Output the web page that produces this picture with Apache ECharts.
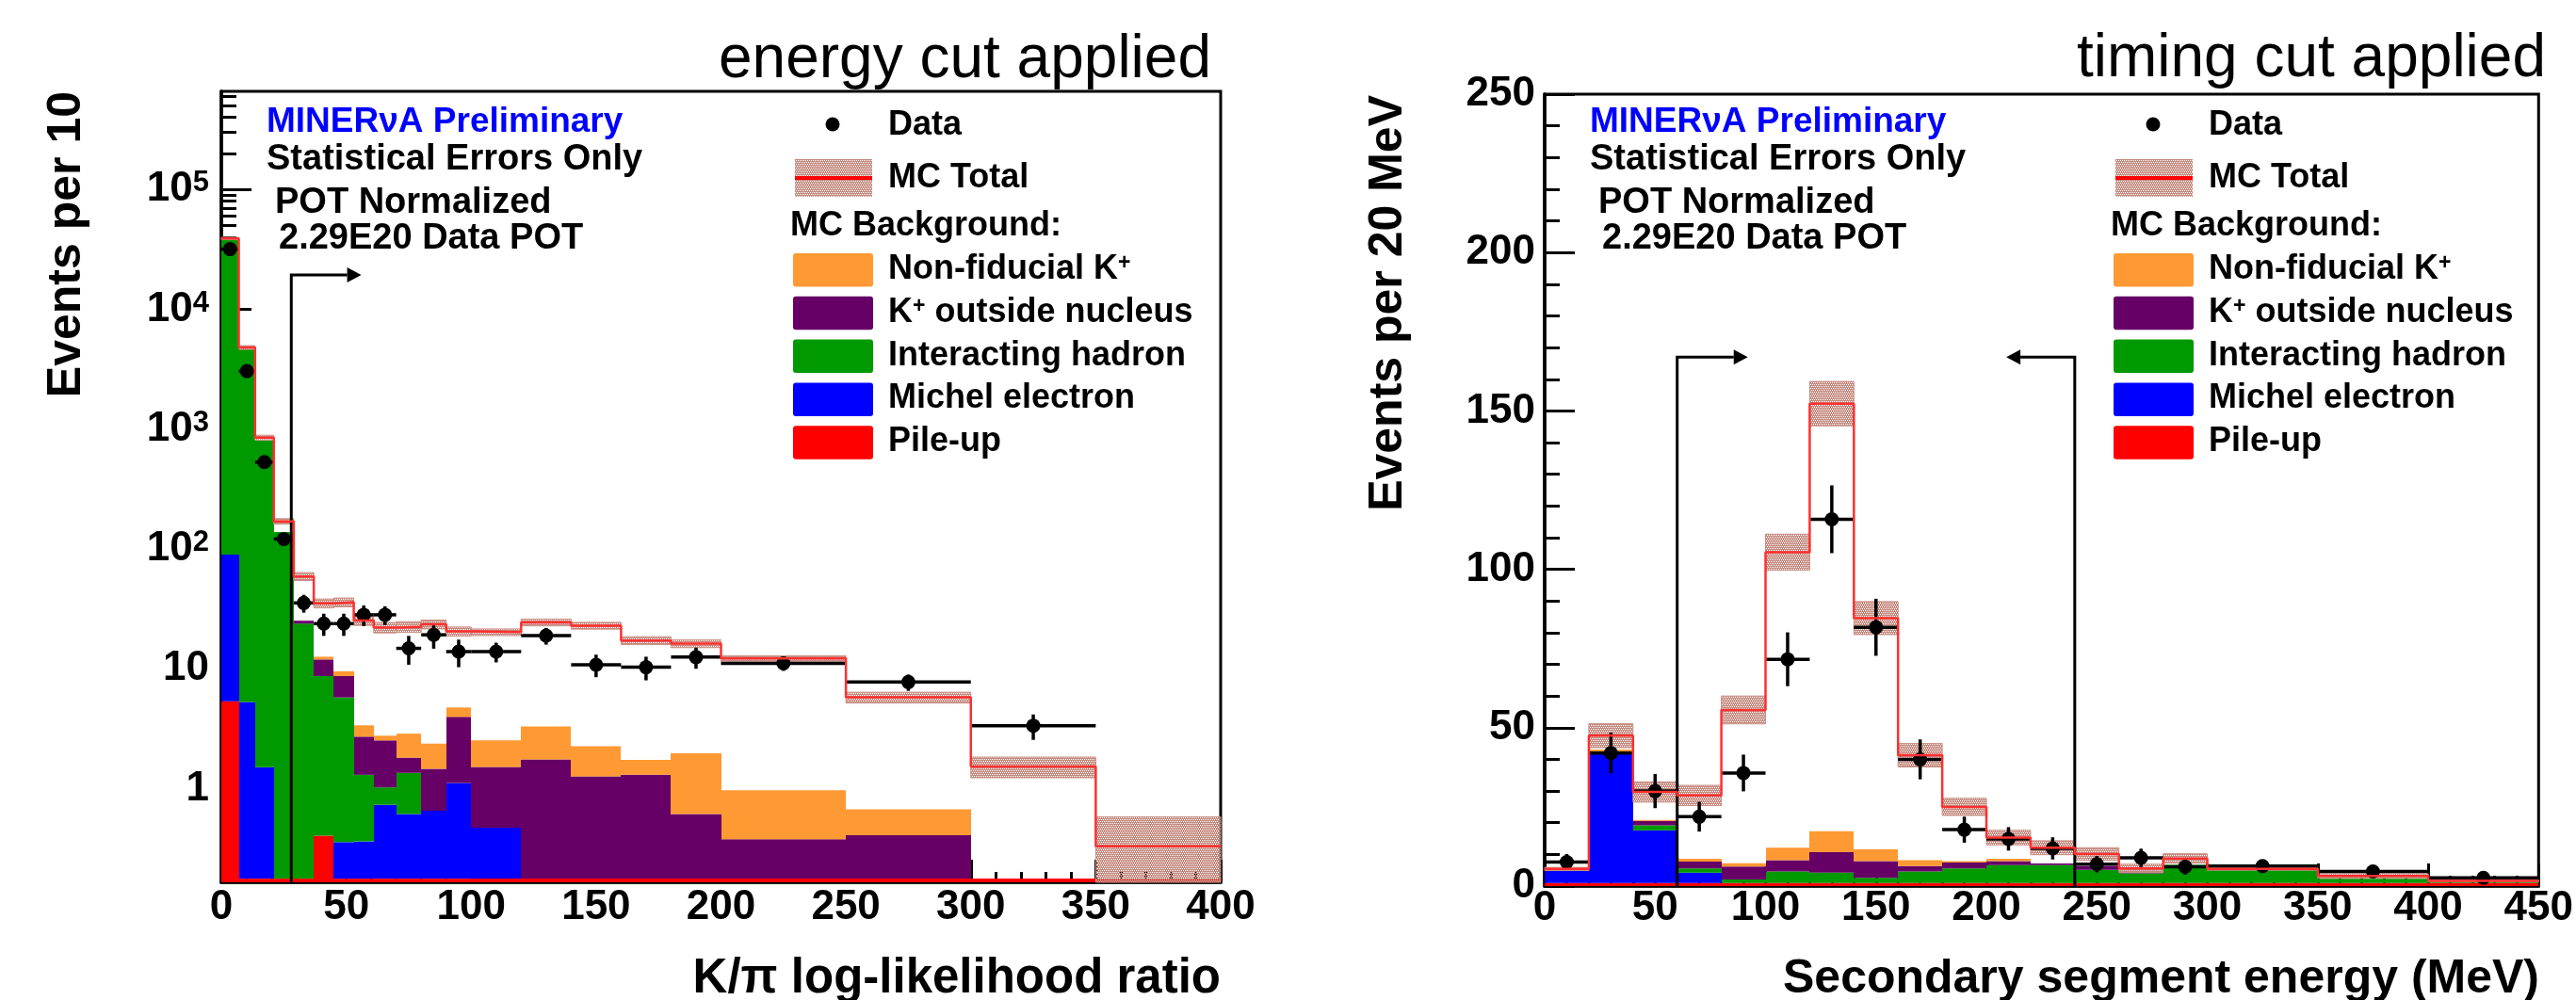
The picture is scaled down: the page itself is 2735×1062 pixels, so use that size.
<!DOCTYPE html>
<html>
<head>
<meta charset="UTF-8">
<title>K+ selection cuts</title>
<style>
  html, body { margin: 0; padding: 0; background: #fff; }
</style>
</head>
<body>
<div id="main" style="width:2735px;height:1062px"></div>
<script src="https://cdn.jsdelivr.net/npm/echarts@6/dist/echarts.min.js"></script>
<script type="text/javascript">
var FONT = 'Liberation Sans, Arial, Helvetica, sans-serif';

// ---- left panel: K/pi log-likelihood ratio, energy cut applied (events per 10)
var llEdges    = [0, 7, 13.5, 21, 29, 37, 45, 53, 61, 70, 80, 90, 100, 120, 140, 160, 180, 200, 250, 300, 350, 400];
var llPileup   = [5.35, 0.177, 0.177, 0.177, 0.177, 0.404, 0.177, 0.177, 0.177, 0.177, 0.177, 0.177, 0.177, 0.177, 0.177, 0.177, 0.177, 0.177, 0.177, 0.177, 0.177];
var llMichel   = [84.3, 5.1, 1.33, 0, 0, 0, 0.18, 0.185, 0.555, 0.435, 0.475, 0.935, 0.295, 0, 0, 0, 0, 0, 0, 0, 0];
var llHadron   = [38500, 4635, 798, 138, 23.6, 8.28, 5.4, 0.94, 0.29, 0.74, 0, 0, 0, 0, 0, 0, 0, 0, 0, 0, 0];
var llKOutside = [0, 0, 0, 0, 1.4, 3.27, 2.93, 1.41, 1.5, 0.46, 0.81, 2.85, 1.04, 1.575, 1.085, 1.125, 0.435, 0.2, 0.23, 0, 0];
var llNonFid   = [0, 0, 0, 0, 0, 0.65, 0.82, 0.66, 0.24, 1.06, 0.91, 0.79, 1.01, 1.55, 0.99, 0.43, 1.36, 0.59, 0.265, 0, 0];
var llMC       = [39000, 4800, 850, 170, 59, 35.2, 35.9, 25.3, 22.1, 22.4, 23.5, 20.5, 20.2, 24.4, 22.9, 17.2, 16.2, 12.2, 5.77, 1.53, 0.33];
var llMCErr    = [900, 170, 40, 9, 4.5, 3, 3, 2.3, 2.2, 2.3, 2, 1.8, 1.3, 1.6, 1.5, 1.3, 1.2, 0.65, 0.6, 0.3, 0.25];
var llData     = [31800, 3050, 530, 121, 35.4, 23.8, 23.8, 28.2, 28.2, 14.8, 19.2, 13.9, 13.9, 18.9, 10.8, 10.3, 12.5, 11.1, 7.74, 3.35, null];
var llDataErr  = [180, 55, 23, 12, 6, 5, 5, 5.5, 5, 4, 4.5, 3.6, 2.6, 3, 2.3, 2.3, 2.5, 1.5, 1.2, 0.8, null];
var llYTicks   = [1, 10, 100, 1000, 10000, 100000];
var llYMin = 0.165, llYMax = 6.6e5;
var llCuts     = [[28, 19400, 56]];   // cut value, arrow height, arrow tip

// ---- right panel: secondary segment energy, timing cut applied (events per 20 MeV)
var segEdges    = [0, 20, 40, 60, 80, 100, 120, 140, 160, 180, 200, 220, 240, 260, 280, 300, 350, 400, 450];
var segPileup   = [1, 1, 1, 1, 1, 1, 1, 1, 1, 1, 1, 1, 1, 1, 1, 1, 1, 1];
var segMichel   = [3.9, 40.7, 16.6, 3.2, 0, 0, 0, 0, 0, 0, 0, 0, 0, 0, 0, 0, 0, 0];
var segHadron   = [0.5, 0.7, 1.6, 1.4, 1.1, 3.6, 3.2, 1.6, 3.6, 4.6, 5.6, 5.6, 4.1, 3.0, 5.7, 4.4, 1.3, 0.6];
var segKOutside = [0, 0, 1.4, 2.1, 4.1, 3.6, 6.5, 5.3, 1.7, 1.8, 1.3, 0.5, 1.2, 0.8, 0, 0, 0, 0];
var segNonFid   = [0, 0.7, 0.3, 0.9, 1.0, 3.9, 6.6, 3.7, 1.9, 0.5, 0.7, 0, 0, 0, 0, 0, 0, 0];
var segMC       = [5.4, 47.5, 29.7, 28.6, 55.6, 105.4, 152.3, 84.6, 41.3, 25.0, 15.3, 12.1, 10.1, 5.6, 8.7, 5.4, 3.2, 1.6];
var segMCErr    = [0.5, 3.8, 3.2, 3.2, 4.4, 5.7, 7, 5.2, 3.7, 2.7, 2.3, 2.2, 2.0, 1.3, 1.5, 0.4, 0.7, 0.3];
var segData     = [7.6, 42, 30, 21.9, 35.7, 71.6, 115.8, 81.7, 40, 17.8, 14.9, 11.9, 6.9, 8.9, 6.1, 6.3, 4.6, 2.6];
var segDataErr  = [2.5, 6.4, 5.4, 4.7, 5.8, 8.5, 10.7, 9, 6.3, 4.1, 3.7, 3.5, 2.6, 2.9, 2.5, 1.6, 1.4, 1.0];
var segCuts     = [[60, 167, 92], [240, 167, 209]];

var compColors = ['#ff0000', '#0000ff', '#009900', '#660066', '#ff9933'];

// hatch pattern for the MC total band (holes let the red line show through)
var pat = document.createElement('canvas');
pat.width = 4; pat.height = 4;
var pctx = pat.getContext('2d');
pctx.fillStyle = '#c48a7f';
pctx.fillRect(0, 0, 4, 4);
pctx.clearRect(0, 0, 1, 1); pctx.clearRect(2, 0, 1, 1);
pctx.clearRect(1, 2, 1, 1); pctx.clearRect(3, 2, 1, 1);
var hatch = { image: pat, repeat: 'repeat' };

function stackData(edges, comps, floor) {
    var out = comps.map(function () { return []; });
    for (var i = 0; i < edges.length - 1; i++) {
        var cum = 0;
        for (var c = 0; c < comps.length; c++) {
            var v = comps[c][i];
            if (v > 0) {
                var b = cum;
                cum += v;
                out[c].push([edges[i], edges[i + 1], Math.max(b, floor), cum]);
            }
        }
    }
    return out;
}

function bandData(edges, mc, err, floor) {
    var out = [];
    for (var i = 0; i < mc.length; i++) {
        out.push([edges[i], edges[i + 1], Math.max(mc[i] - err[i], floor), mc[i] + err[i]]);
    }
    return out;
}

function stepPoints(edges, vals) {
    var pts = [];
    for (var i = 0; i < vals.length; i++) {
        pts.push([edges[i], vals[i]]);
        pts.push([edges[i + 1], vals[i]]);
    }
    return pts;
}

function pointData(edges, vals, errs) {
    var out = [];
    for (var i = 0; i < vals.length; i++) {
        if (vals[i] == null) continue;
        out.push([(edges[i] + edges[i + 1]) / 2, vals[i], errs[i], edges[i], edges[i + 1]]);
    }
    return out;
}

function renderBox(params, api) {
    var a = api.coord([api.value(0), api.value(3)]);
    var b = api.coord([api.value(1), api.value(2)]);
    var x0 = Math.round(a[0]), x1 = Math.round(b[0]);
    return { type: 'rect', shape: { x: x0, y: a[1], width: x1 - x0, height: b[1] - a[1] },
             style: { fill: api.visual('color') } };
}

function renderBand(params, api) {
    var a = api.coord([api.value(0), api.value(3)]);
    var b = api.coord([api.value(1), api.value(2)]);
    return { type: 'rect', shape: { x: a[0], y: a[1], width: b[0] - a[0], height: b[1] - a[1] },
             style: { fill: hatch, stroke: '#c99085', lineWidth: 1 } };
}

function dataRenderer(floor) {
    return function (params, api) {
        var x = api.value(0), y = api.value(1), e = api.value(2);
        var c = api.coord([x, y]);
        var up = api.coord([x, y + e]);
        var dn = api.coord([x, Math.max(y - e, floor)]);
        var l = api.coord([api.value(3), y]);
        var r = api.coord([api.value(4), y]);
        return { type: 'group', children: [
            { type: 'line', shape: { x1: l[0], y1: c[1], x2: r[0], y2: c[1] }, style: { stroke: '#000', lineWidth: 3.5 } },
            { type: 'line', shape: { x1: c[0], y1: up[1], x2: c[0], y2: dn[1] }, style: { stroke: '#000', lineWidth: 3.5 } },
            { type: 'circle', shape: { cx: c[0], cy: c[1], r: 7.5 }, style: { fill: '#000' } }
        ] };
    };
}

function cutRenderer(floor) {
    return function (params, api) {
        var b = api.coord([api.value(0), floor]);
        var t = api.coord([api.value(0), api.value(1)]);
        var tip = api.coord([api.value(2), api.value(1)]);
        var dir = tip[0] > t[0] ? 1 : -1;
        var hx = tip[0] - dir * 15;
        return { type: 'group', children: [
            { type: 'polyline', shape: { points: [[b[0], b[1]], [t[0], t[1]], [hx, t[1]]] },
              style: { stroke: '#000', lineWidth: 3, fill: null } },
            { type: 'polygon', shape: { points: [[tip[0], t[1]], [hx, t[1] - 8], [hx, t[1] + 8]] },
              style: { fill: '#000' } }
        ] };
    };
}

function panelSeries(xi, yi, edges, comps, mc, mcErr, data, dataErr, cuts, floor) {
    var list = [];
    var stacks = stackData(edges, comps, floor);
    stacks.forEach(function (d, k) {
        list.push({ type: 'custom', xAxisIndex: xi, yAxisIndex: yi, silent: true,
                    itemStyle: { color: compColors[k] }, encode: { x: [0, 1], y: [2, 3] },
                    data: d, renderItem: renderBox });
    });
    list.push({ type: 'line', xAxisIndex: xi, yAxisIndex: yi, silent: true, symbol: 'none',
                lineStyle: { color: '#ff3030', width: 2.5 }, data: stepPoints(edges, mc) });
    list.push({ type: 'custom', xAxisIndex: xi, yAxisIndex: yi, silent: true,
                encode: { x: [0, 1], y: [2, 3] }, data: bandData(edges, mc, mcErr, floor), renderItem: renderBand });
    list.push({ type: 'custom', xAxisIndex: xi, yAxisIndex: yi, silent: true,
                encode: { x: 0, y: 1 }, data: pointData(edges, data, dataErr), renderItem: dataRenderer(floor) });
    list.push({ type: 'custom', xAxisIndex: xi, yAxisIndex: yi, silent: true,
                encode: { x: [0, 2], y: 1 }, data: cuts, renderItem: cutRenderer(floor) });
    return list;
}

var series = panelSeries(0, 0, llEdges, [llPileup, llMichel, llHadron, llKOutside, llNonFid],
                         llMC, llMCErr, llData, llDataErr, llCuts, llYMin)
    .concat(panelSeries(1, 2, segEdges, [segPileup, segMichel, segHadron, segKOutside, segNonFid],
                        segMC, segMCErr, segData, segDataErr, segCuts, 0));

// minor ticks of the log axis: 2..9 in every decade
var llMinor = [];
for (var d = -1; d <= 5; d++) {
    for (var k = 2; k <= 9; k++) {
        var v = k * Math.pow(10, d);
        if (v > llYMin && v < llYMax) llMinor.push(v);
    }
}

function powLabel(v) {
    var e = Math.round(Math.log(v) / Math.LN10);
    if (e === 0) return '1';
    if (e === 1) return '10';
    return '10{sup|' + e + '}';
}

var axisLineStyle = { color: '#000', width: 3.5 };
var tickStyle = { color: '#000', width: 3 };
var labelStyle = { fontSize: 44, fontWeight: 'bold', fontFamily: FONT, color: '#000' };

function xAxisOpt(gi, max, margin) {
    return {
        gridIndex: gi, type: 'value', min: 0, max: max, interval: 50,
        axisLine: { lineStyle: axisLineStyle },
        axisTick: { inside: true, length: 24, lineStyle: tickStyle },
        minorTick: { show: true, splitNumber: 5, length: 11, lineStyle: tickStyle },
        axisLabel: Object.assign({ margin: margin }, labelStyle),
        splitLine: { show: false }
    };
}

// ---- legend, text boxes and titles
function txt(x, y, text, size, o) {
    o = o || {};
    var align = o.align || 'left';
    return {
        type: 'text', x: x, y: y, rotation: o.rotation || 0, silent: true,
        style: {
            text: text, fill: o.color || '#000', fontSize: size, fontWeight: o.weight || 'bold',
            fontFamily: FONT, align: align, textAlign: align,
            verticalAlign: 'middle', textVerticalAlign: 'middle', rich: o.rich
        }
    };
}

var supRich = { sup: { fontSize: 23, fontWeight: 'bold', fontFamily: FONT, color: '#000', verticalAlign: 'top' } };
var legendNames = ['Non-fiducial K{sup|+}', 'K{sup|+} outside nucleus', 'Interacting hadron', 'Michel electron', 'Pile-up'];
var legendColors = ['#ff9933', '#660066', '#009900', '#0000ff', '#ff0000'];

function panelDecor(L, R) {
    var els = [];
    els.push(txt(L + 48, 130, 'MINER\u03bdA Preliminary', 37, { color: '#0000ff' }));
    els.push(txt(L + 48, 170, 'Statistical Errors Only', 38));
    els.push(txt(L + 57, 216, 'POT Normalized', 38));
    els.push(txt(L + 61, 254, '2.29E20 Data POT', 38));

    var sx = R - 454, tx = R - 353;
    els.push({ type: 'circle', silent: true, shape: { cx: R - 412, cy: 132, r: 7.5 }, style: { fill: '#000' } });
    els.push(txt(tx, 133, 'Data', 36));
    els.push({ type: 'rect', silent: true, shape: { x: sx + 2, y: 169, width: 82, height: 40 }, style: { fill: hatch } });
    els.push({ type: 'line', silent: true, shape: { x1: sx + 2, y1: 189, x2: sx + 84, y2: 189 }, style: { stroke: '#ff0000', lineWidth: 4 } });
    els.push(txt(tx, 189, 'MC Total', 36));
    els.push(txt(R - 457, 240, 'MC Background:', 36));
    for (var i = 0; i < legendNames.length; i++) {
        var top = 269 + i * 45.8;
        els.push({ type: 'rect', silent: true, shape: { x: sx, y: top, width: 85, height: 35.5, r: 3 },
                   style: { fill: legendColors[i] } });
        els.push(txt(tx, top + 17, legendNames[i], 36, { rich: supRich }));
    }
    return els;
}

var graphics = []
    .concat(panelDecor(235, 1296))
    .concat(panelDecor(1640, 2698))
    .concat([
        txt(1286, 64, 'energy cut applied', 64, { align: 'right', weight: 'normal' }),
        txt(2703, 63, 'timing cut applied', 64, { align: 'right', weight: 'normal' }),
        txt(71, 97, 'Events per 10', 50, { align: 'right', rotation: Math.PI / 2 }),
        txt(1474, 101, 'Events per 20 MeV', 50, { align: 'right', rotation: Math.PI / 2 }),
        txt(1296, 1040, 'K/\u03c0 log-likelihood ratio', 51, { align: 'right' }),
        txt(2696, 1040, 'Secondary segment energy (MeV)', 50, { align: 'right' })
    ]);

var option = {
    animation: false,
    backgroundColor: '#fff',
    grid: [
        { left: 235, top: 97, width: 1061, height: 840, show: true, borderColor: '#000', borderWidth: 3 },
        { left: 1640, top: 100, width: 1058, height: 841, show: true, borderColor: '#000', borderWidth: 3 }
    ],
    xAxis: [ xAxisOpt(0, 400, 5), xAxisOpt(1, 450, 2) ],
    yAxis: [
        {
            gridIndex: 0, type: 'log', logBase: 10, min: llYMin, max: llYMax,
            axisLine: { lineStyle: axisLineStyle },
            axisTick: { inside: true, length: 32, lineStyle: tickStyle, customValues: llYTicks },
            axisLabel: Object.assign({ margin: 13, customValues: llYTicks, formatter: powLabel,
                rich: { sup: { fontSize: 31, fontWeight: 'bold', fontFamily: FONT, color: '#000', verticalAlign: 'top' } } }, labelStyle),
            splitLine: { show: false }
        },
        {
            gridIndex: 0, type: 'log', logBase: 10, min: llYMin, max: llYMax, position: 'left',
            axisLine: { show: false },
            axisTick: { inside: true, length: 16, lineStyle: tickStyle, customValues: llMinor },
            axisLabel: { show: false },
            splitLine: { show: false }
        },
        {
            gridIndex: 1, type: 'value', min: 0, max: 250, interval: 50,
            axisLine: { lineStyle: axisLineStyle },
            axisTick: { inside: true, length: 32, lineStyle: tickStyle },
            minorTick: { show: true, splitNumber: 5, length: 16, lineStyle: tickStyle },
            axisLabel: Object.assign({ margin: 10 }, labelStyle),
            splitLine: { show: false }
        }
    ],
    graphic: { elements: graphics },
    series: series
};

var myChart = echarts.init(document.getElementById('main'));
myChart.setOption(option);
</script>
</body>
</html>
